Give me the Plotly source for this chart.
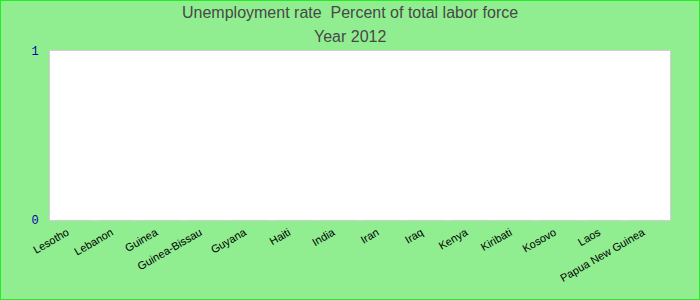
import plotly.graph_objects as go

countries = ["Lesotho", "Lebanon", "Guinea", "Guinea-Bissau", "Guyana", "Haiti", "India",
             "Iran", "Iraq", "Kenya", "Kiribati", "Kosovo", "Laos", "Papua New Guinea"]
values = [0] * len(countries)
y_ticks = [0, 1]
title_lines = ["Unemployment rate  Percent of total labor force", "Year 2012"]

L, R, T, B = 50, 30, 51, 80
W, H = 700, 300
pw, ph = W - L - R, H - T - B

fig = go.Figure(go.Bar(x=countries, y=values, marker_color="#5470c6"))
annotations = []
for i, txt in enumerate(title_lines):
    yc = 13 + 23 * i
    annotations.append(dict(text=txt, xref="paper", yref="paper", x=0.5 - (L - R) / 2 / pw,
                            y=(H - B - yc) / ph, xanchor="center", yanchor="middle",
                            showarrow=False,
                            font=dict(family="Liberation Sans, Arial", size=16, color="#484848")))
fig.update_layout(
    width=W, height=H,
    margin=dict(l=L, r=R, t=T, b=B),
    paper_bgcolor="#90EE90",
    plot_bgcolor="white",
    showlegend=False,
    annotations=annotations,
    shapes=[dict(type="rect", xref="paper", yref="paper",
                 x0=-L / pw, x1=(W - L) / pw, y0=-(B) / ph, y1=(H - B) / ph,
                 line=dict(color="#22ee22", width=2), fillcolor="rgba(0,0,0,0)", layer="above")],
)
fig.update_xaxes(tickangle=-30, showgrid=False, showline=True, linecolor="#d0d0d0", mirror=True,
                 tickfont=dict(family="Liberation Sans, Arial", size=11, color="black"),
                 ticks="outside", ticklen=1, tickcolor="rgba(0,0,0,0)", fixedrange=True,
                 ticklabelshift=-5)
fig.update_yaxes(range=[0, 1], tickvals=y_ticks, showgrid=False, showline=True, linecolor="#d0d0d0",
                 mirror=True, zeroline=False,
                 tickfont=dict(family="Liberation Mono, monospace", size=12, color="#0000aa"),
                 ticks="outside", ticklen=8, tickcolor="rgba(0,0,0,0)")
fig.write_html("out.html")
